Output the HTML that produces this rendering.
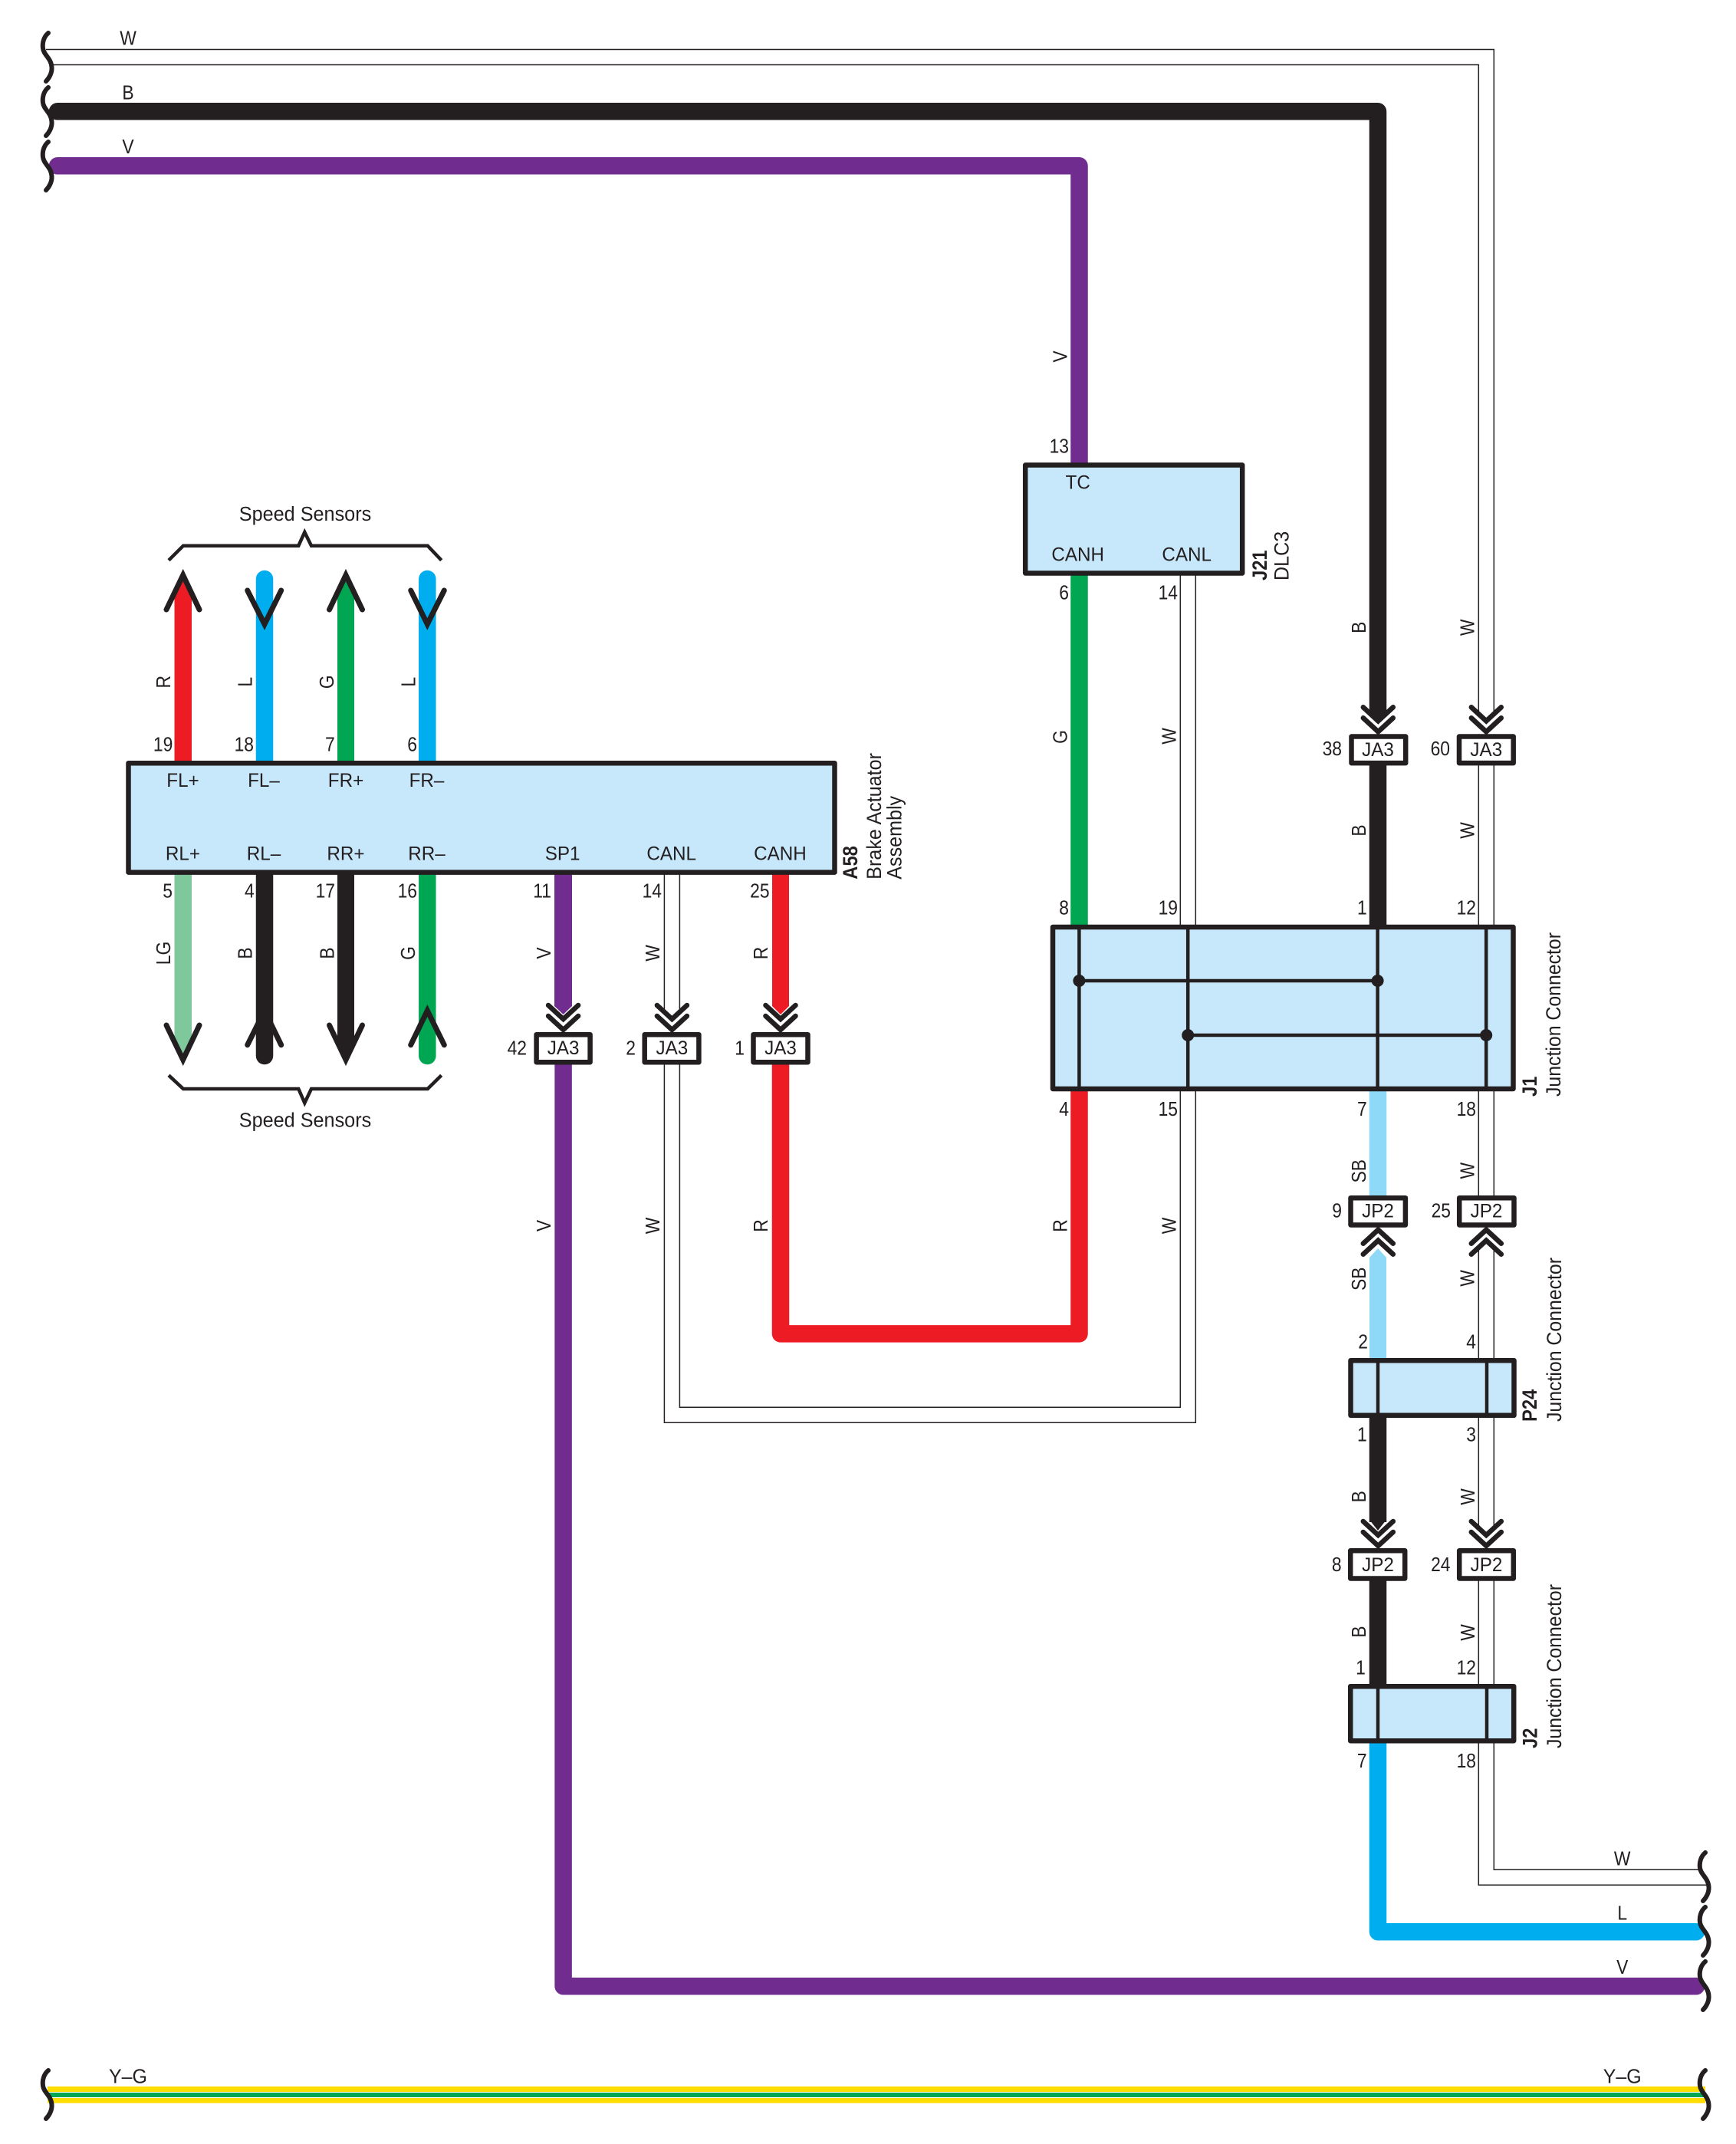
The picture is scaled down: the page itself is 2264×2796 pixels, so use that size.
<!DOCTYPE html>
<html><head><meta charset="utf-8"><title>Wiring diagram</title>
<style>
html,body{margin:0;padding:0;background:#fff}
svg{display:block}
text{font-family:"Liberation Sans",Arial,sans-serif;fill:#231F20}
.n{font-size:26px;text-anchor:end}
.p{font-size:25px;text-anchor:middle}
.w{font-size:26px;text-anchor:middle}
.s{font-size:27px}
.b{font-size:27px;font-weight:bold}
</style></head><body>
<svg xmlns="http://www.w3.org/2000/svg" width="2264" height="2796" viewBox="0 0 2264 2796">
<defs>
<path id="sq" d="M63,43 C57,48 55,56 56,63 C57,72 67,76 67.5,88 C68,95 64,102 60,106" fill="none" stroke="#231F20" stroke-width="6" stroke-linecap="round"/>
<g id="ch" fill="none" stroke="#231F20" stroke-width="6.5" stroke-linecap="round" stroke-miterlimit="8">
<polyline points="-19.5,-35 0,-17 19.5,-35"/><polyline points="-19.5,-21 0,-3 19.5,-21"/></g>
<rect id="wm" x="-13" y="-27" width="26" height="27" fill="#fff"/>
</defs>
<rect width="2264" height="2796" fill="#fff"/>

<!-- thin W wires -->
<g fill="none" stroke="#231F20" stroke-width="1.5">
<path d="M60,64.5 H1948.3 V2438.3 H2216"/>
<path d="M70,84.5 H1928.3 V2458.3 H2228"/>
<path d="M866.4,1140 V1855.3 H1559.3 V750"/>
<path d="M886.4,1140 V1835.3 H1539.3 V750"/>
</g>

<!-- thick wires -->
<g fill="none" stroke-width="22.5" stroke-linejoin="round">
<path d="M75,145.3 H1797 V925" stroke="#231F20" stroke-linecap="round"/>
<path d="M75,216.3 H1407.5 V603" stroke="#702C8E" stroke-linecap="round"/>
<path d="M1797,998 V1206" stroke="#231F20"/>
<path d="M734.6,1388 V2590.3 H2212" stroke="#702C8E" stroke-linecap="round"/>
<path d="M1018,1388 V1739.4 H1407.5 V1423" stroke="#ED1C24"/>
<path d="M1407.5,750 V1206" stroke="#00A651"/>
<path d="M1797,1423 V1559" stroke="#8ED8F8"/>
<path d="M1797,1849 V1985" stroke="#231F20"/>
<path d="M1797,2061 V2196" stroke="#231F20"/>
<path d="M1797,2273 V2519.3 H2212" stroke="#00AEEF" stroke-linecap="round"/>
<path d="M345,755 V992" stroke="#00AEEF" stroke-linecap="round"/>
<path d="M557.3,755 V992" stroke="#00AEEF" stroke-linecap="round"/>
<path d="M345,1140 V1377" stroke="#231F20" stroke-linecap="round"/>
<path d="M557.3,1140 V1377" stroke="#00A651" stroke-linecap="round"/>
</g>
<g>
<polygon points="227.5,773 238.7,750 250,773 250,992 227.5,992" fill="#ED1C24"/>
<polygon points="440,773 451,750 462,773 462,992 440,992" fill="#00A651"/>
<polygon points="227.5,1140 250,1140 250,1358 238.7,1380 227.5,1358" fill="#7FC89B"/>
<polygon points="440,1140 462,1140 462,1358 451,1380 440,1358" fill="#231F20"/>
<polygon points="723,1140 746,1140 746,1312 734.6,1323 723,1312" fill="#702C8E"/>
<polygon points="1007,1140 1029,1140 1029,1312 1018,1323 1007,1312" fill="#ED1C24"/>
<polygon points="1786,920 1808,920 1797,934" fill="#231F20"/>
<polygon points="1786,1982 1808,1982 1797,1996" fill="#231F20"/>
<polygon points="1786,1640 1797,1628 1808,1640 1808,1771 1786,1771" fill="#8ED8F8"/>
</g>

<!-- Y-G wire -->
<rect x="62" y="2721" width="2162" height="21.7" fill="#FFDD00"/>
<rect x="62" y="2728" width="2162" height="8" fill="#fff"/>
<rect x="62" y="2729" width="2162" height="6" fill="#00A651"/>

<!-- break squiggles -->
<use href="#sq"/><use href="#sq" y="71"/><use href="#sq" y="142"/><use href="#sq" y="2657"/>
<g transform="translate(2161,0)">
<use href="#sq" y="2373"/><use href="#sq" y="2444"/><use href="#sq" y="2515"/><use href="#sq" y="2657"/>
</g>

<!-- speed sensor chevrons -->
<g fill="none" stroke="#231F20" stroke-width="7" stroke-linecap="round" stroke-miterlimit="8">
<polyline points="217,795 238.7,750 260,795"/>
<polyline points="322.7,770 345,814 366.7,770"/>
<polyline points="429.5,795 451,750 472.5,795"/>
<polyline points="535.7,770 557.3,814 579.3,770"/>
<polyline points="217,1337 238.7,1382 260,1337"/>
<polyline points="322.7,1362.7 345,1318 366.7,1362.7"/>
<polyline points="429.5,1337 451,1382 472.5,1337"/>
<polyline points="535.7,1362.7 557.3,1318 579.3,1362.7"/>
</g>
<g fill="none" stroke="#231F20" stroke-width="4.5" stroke-linejoin="miter">
<polyline points="220,730.7 239,711.7 389.3,711.7 397.3,694 406,711.7 557.7,711.7 575.7,730.7"/>
<polyline points="220,1402.3 239,1420 389.3,1420 397.3,1438.3 406,1420 557.7,1420 575.7,1402.3"/>
</g>

<!-- connector double chevrons with white cut -->
<g transform="translate(876.4,1346)"><use href="#wm"/></g>
<g transform="translate(1938.3,957.3)"><use href="#wm"/></g>
<g transform="translate(1938.3,2019)"><use href="#wm"/></g>
<g transform="translate(1938.3,1600.7) scale(1,-1)"><use href="#wm"/></g>
<use href="#ch" transform="translate(734.6,1346)"/>
<use href="#ch" transform="translate(876.4,1346)"/>
<use href="#ch" transform="translate(1018,1346)"/>
<use href="#ch" transform="translate(1797.3,957.3)"/>
<use href="#ch" transform="translate(1938.3,957.3)"/>
<use href="#ch" transform="translate(1797.3,2019)"/>
<use href="#ch" transform="translate(1938.3,2019)"/>
<use href="#ch" transform="translate(1797.3,1600.7) scale(1,-1)"/>
<use href="#ch" transform="translate(1938.3,1600.7) scale(1,-1)"/>

<!-- component boxes -->
<g fill="#C7E8FB" stroke="#231F20" stroke-width="6.5" stroke-linejoin="round">
<rect x="167.5" y="995.2" width="921" height="142.4"/>
<rect x="1337.2" y="606.5" width="283" height="141"/>
<rect x="1373" y="1209" width="600.5" height="211"/>
<rect x="1761.5" y="1774.2" width="213" height="71.6"/>
<rect x="1761.2" y="2199.2" width="213" height="71"/>
</g>
<g fill="#fff" stroke="#231F20" stroke-width="6.5" stroke-linejoin="round">
<rect x="699.6" y="1349.2" width="70" height="36"/>
<rect x="840.7" y="1349.2" width="70.7" height="36"/>
<rect x="982.5" y="1349.2" width="71" height="36"/>
<rect x="1762.5" y="960.5" width="70.7" height="34.6"/>
<rect x="1903" y="960.5" width="70.7" height="34.6"/>
<rect x="1761.5" y="1562.2" width="71.4" height="35.3"/>
<rect x="1903.2" y="1562.2" width="71.3" height="35.3"/>
<rect x="1761.2" y="2022.2" width="71" height="36.3"/>
<rect x="1903.2" y="2022.2" width="70.6" height="36.3"/>
</g>

<!-- inner bus lines -->
<g stroke="#231F20" stroke-width="4.5" fill="none">
<path d="M1407.4,1206 V1423 M1549.2,1206 V1423 M1796.6,1206 V1423 M1938.2,1206 V1423"/>
<path d="M1407.4,1279 H1796.6 M1549.2,1350 H1938.2"/>
<path d="M1797,1771 V1849 M1939,1771 V1849 M1797,2196 V2273 M1939,2196 V2273"/>
</g>
<g fill="#231F20">
<circle cx="1407.4" cy="1279" r="8"/><circle cx="1796.6" cy="1279" r="8"/>
<circle cx="1549.2" cy="1350" r="8"/><circle cx="1938.2" cy="1350" r="8"/>
</g>

<!-- end labels -->
<g class="w">
<text class="w" transform="matrix(.88 0 0 1 167 58.3)">W</text>
<text class="w" transform="matrix(.88 0 0 1 167 129.3)">B</text>
<text class="w" transform="matrix(.88 0 0 1 167 200)">V</text>
<text class="w" transform="matrix(.88 0 0 1 2115.7 2432.3)">W</text>
<text class="w" transform="matrix(.88 0 0 1 2115.7 2503.3)">L</text>
<text class="w" transform="matrix(.88 0 0 1 2115.7 2574)">V</text>
<text class="w" transform="matrix(.96 0 0 1 167 2716.7)">Y–G</text>
<text class="w" transform="matrix(.96 0 0 1 2115.7 2716.7)">Y–G</text>
</g>

<!-- speed sensors text -->
<text class="w" transform="matrix(.97 0 0 1 398 679)">Speed Sensors</text>
<text class="w" transform="matrix(.97 0 0 1 398 1469.3)">Speed Sensors</text>

<!-- A58 pin names -->
<text class="p" transform="matrix(.97 0 0 1 238.5 1026)">FL+</text>
<text class="p" transform="matrix(.97 0 0 1 344 1026)">FL–</text>
<text class="p" transform="matrix(.97 0 0 1 451 1026)">FR+</text>
<text class="p" transform="matrix(.97 0 0 1 556.5 1026)">FR–</text>
<text class="p" transform="matrix(.97 0 0 1 238.5 1121.7)">RL+</text>
<text class="p" transform="matrix(.97 0 0 1 344 1121.7)">RL–</text>
<text class="p" transform="matrix(.97 0 0 1 451 1121.7)">RR+</text>
<text class="p" transform="matrix(.97 0 0 1 556.5 1121.7)">RR–</text>
<text class="p" transform="matrix(.97 0 0 1 733.6 1121.7)">SP1</text>
<text class="p" transform="matrix(.97 0 0 1 875.7 1121.7)">CANL</text>
<text class="p" transform="matrix(.97 0 0 1 1017.4 1121.7)">CANH</text>

<!-- DLC3 pin names -->
<text class="p" transform="matrix(.97 0 0 1 1405.7 637.3)">TC</text>
<text class="p" transform="matrix(.97 0 0 1 1405.7 731.7)">CANH</text>
<text class="p" transform="matrix(.97 0 0 1 1547.7 731.7)">CANL</text>

<!-- connector names -->
<text class="p" transform="matrix(.97 0 0 1 734.6 1375)">JA3</text>
<text class="p" transform="matrix(.97 0 0 1 876.4 1375)">JA3</text>
<text class="p" transform="matrix(.97 0 0 1 1018 1375)">JA3</text>
<text class="p" transform="matrix(.97 0 0 1 1797 986)">JA3</text>
<text class="p" transform="matrix(.97 0 0 1 1938.3 986)">JA3</text>
<text class="p" transform="matrix(.97 0 0 1 1797 1587.5)">JP2</text>
<text class="p" transform="matrix(.97 0 0 1 1938.5 1587.5)">JP2</text>
<text class="p" transform="matrix(.97 0 0 1 1797 2049)">JP2</text>
<text class="p" transform="matrix(.97 0 0 1 1938.5 2049)">JP2</text>

<!-- pin numbers -->
<text class="n" transform="matrix(.88 0 0 1 225.3 979.3)">19</text>
<text class="n" transform="matrix(.88 0 0 1 331 979.3)">18</text>
<text class="n" transform="matrix(.88 0 0 1 436.7 979.3)">7</text>
<text class="n" transform="matrix(.88 0 0 1 544 979.3)">6</text>
<text class="n" transform="matrix(.88 0 0 1 225 1170.7)">5</text>
<text class="n" transform="matrix(.88 0 0 1 331.7 1170.7)">4</text>
<text class="n" transform="matrix(.88 0 0 1 437 1170.7)">17</text>
<text class="n" transform="matrix(.88 0 0 1 544 1170.7)">16</text>
<text class="n" transform="matrix(.88 0 0 1 719 1170.7)">11</text>
<text class="n" transform="matrix(.88 0 0 1 863 1170.7)">14</text>
<text class="n" transform="matrix(.88 0 0 1 1003.6 1170.7)">25</text>
<text class="n" transform="matrix(.88 0 0 1 687 1375.5)">42</text>
<text class="n" transform="matrix(.88 0 0 1 829 1375.5)">2</text>
<text class="n" transform="matrix(.88 0 0 1 971 1375.5)">1</text>
<text class="n" transform="matrix(.88 0 0 1 1394 590.7)">13</text>
<text class="n" transform="matrix(.88 0 0 1 1394 781.7)">6</text>
<text class="n" transform="matrix(.88 0 0 1 1536 781.7)">14</text>
<text class="n" transform="matrix(.88 0 0 1 1750 985)">38</text>
<text class="n" transform="matrix(.88 0 0 1 1891 985)">60</text>
<text class="n" transform="matrix(.88 0 0 1 1394 1192.7)">8</text>
<text class="n" transform="matrix(.88 0 0 1 1536 1192.7)">19</text>
<text class="n" transform="matrix(.88 0 0 1 1782.7 1192.7)">1</text>
<text class="n" transform="matrix(.88 0 0 1 1925 1192.7)">12</text>
<text class="n" transform="matrix(.88 0 0 1 1394 1455)">4</text>
<text class="n" transform="matrix(.88 0 0 1 1536 1455)">15</text>
<text class="n" transform="matrix(.88 0 0 1 1782.7 1455)">7</text>
<text class="n" transform="matrix(.88 0 0 1 1925 1455)">18</text>
<text class="n" transform="matrix(.88 0 0 1 1750 1587.5)">9</text>
<text class="n" transform="matrix(.88 0 0 1 1892 1587.5)">25</text>
<text class="n" transform="matrix(.88 0 0 1 1784 1758.3)">2</text>
<text class="n" transform="matrix(.88 0 0 1 1925 1758.3)">4</text>
<text class="n" transform="matrix(.88 0 0 1 1782.7 1879.3)">1</text>
<text class="n" transform="matrix(.88 0 0 1 1925 1879.3)">3</text>
<text class="n" transform="matrix(.88 0 0 1 1749.6 2049)">8</text>
<text class="n" transform="matrix(.88 0 0 1 1891.5 2049)">24</text>
<text class="n" transform="matrix(.88 0 0 1 1780.8 2183.3)">1</text>
<text class="n" transform="matrix(.88 0 0 1 1925 2183.3)">12</text>
<text class="n" transform="matrix(.88 0 0 1 1782.6 2305)">7</text>
<text class="n" transform="matrix(.88 0 0 1 1925 2305)">18</text>

<!-- vertical wire colour labels -->
<text class="w" transform="matrix(0 -.88 1 0 222 889.3)">R</text>
<text class="w" transform="matrix(0 -.88 1 0 328.5 889.3)">L</text>
<text class="w" transform="matrix(0 -.88 1 0 435 889.3)">G</text>
<text class="w" transform="matrix(0 -.88 1 0 541.5 889.3)">L</text>
<text class="w" transform="matrix(0 -.88 1 0 222 1243)">LG</text>
<text class="w" transform="matrix(0 -.88 1 0 328.5 1243)">B</text>
<text class="w" transform="matrix(0 -.88 1 0 435.5 1243)">B</text>
<text class="w" transform="matrix(0 -.88 1 0 541.2 1243)">G</text>
<text class="w" transform="matrix(0 -.88 1 0 718 1243)">V</text>
<text class="w" transform="matrix(0 -.88 1 0 860 1243)">W</text>
<text class="w" transform="matrix(0 -.88 1 0 1001 1243)">R</text>
<text class="w" transform="matrix(0 -.88 1 0 718 1598.5)">V</text>
<text class="w" transform="matrix(0 -.88 1 0 860 1598.5)">W</text>
<text class="w" transform="matrix(0 -.88 1 0 1001 1598.5)">R</text>
<text class="w" transform="matrix(0 -.88 1 0 1391.7 1598.5)">R</text>
<text class="w" transform="matrix(0 -.88 1 0 1533.5 1598.5)">W</text>
<text class="w" transform="matrix(0 -.88 1 0 1391.7 465)">V</text>
<text class="w" transform="matrix(0 -.88 1 0 1391.7 961)">G</text>
<text class="w" transform="matrix(0 -.88 1 0 1533.5 960)">W</text>
<text class="w" transform="matrix(0 -.88 1 0 1781 818.3)">B</text>
<text class="w" transform="matrix(0 -.88 1 0 1922.7 818.3)">W</text>
<text class="w" transform="matrix(0 -.88 1 0 1781 1083)">B</text>
<text class="w" transform="matrix(0 -.88 1 0 1922.7 1083)">W</text>
<text class="w" transform="matrix(0 -.88 1 0 1781 1527.3)">SB</text>
<text class="w" transform="matrix(0 -.88 1 0 1922.7 1526.7)">W</text>
<text class="w" transform="matrix(0 -.88 1 0 1781 1667.7)">SB</text>
<text class="w" transform="matrix(0 -.88 1 0 1922.7 1667)">W</text>
<text class="w" transform="matrix(0 -.88 1 0 1781 1951.7)">B</text>
<text class="w" transform="matrix(0 -.88 1 0 1923 1952)">W</text>
<text class="w" transform="matrix(0 -.88 1 0 1781 2128)">B</text>
<text class="w" transform="matrix(0 -.88 1 0 1923 2129)">W</text>

<!-- side component names -->
<text class="b" transform="matrix(0 -.88 1 0 1118 1146.7)">A58</text>
<text class="s" transform="matrix(0 -.93 1 0 1149 1146.7)">Brake Actuator</text>
<text class="s" transform="matrix(0 -.93 1 0 1175.4 1146.7)">Assembly</text>
<text class="b" transform="matrix(0 -.88 1 0 1652 757)">J21</text>
<text class="s" transform="matrix(0 -.93 1 0 1680.5 757)">DLC3</text>
<text class="b" transform="matrix(0 -.88 1 0 2004 1430)">J1</text>
<text class="s" transform="matrix(0 -.92 1 0 2035 1430)">Junction Connector</text>
<text class="b" transform="matrix(0 -.88 1 0 2004 1854)">P24</text>
<text class="s" transform="matrix(0 -.92 1 0 2036 1854)">Junction Connector</text>
<text class="b" transform="matrix(0 -.88 1 0 2004.5 2280)">J2</text>
<text class="s" transform="matrix(0 -.92 1 0 2035.8 2280)">Junction Connector</text>
</svg>
</body></html>
